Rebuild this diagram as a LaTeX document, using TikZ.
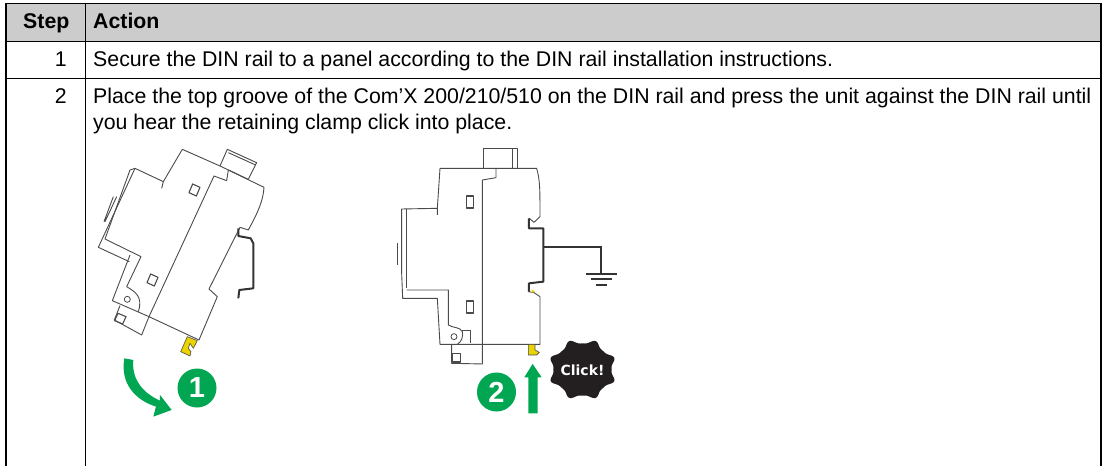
\documentclass[tikz,border=0pt]{standalone}
\usepackage{fontspec}
\setmainfont{Liberation Sans}
\newfontfamily\clickfont{DejaVu Sans}
\definecolor{hdr}{HTML}{CCCCCC}
\definecolor{grn}{HTML}{00A651}
\definecolor{ylw}{HTML}{EBD300}
\definecolor{dev}{HTML}{4A4A4A}
\definecolor{railc}{HTML}{333333}
\definecolor{blk}{HTML}{231F20}
\tikzset{
  tline/.style={draw=black,line width=1.1pt},
  cell/.style={anchor=base west,inner sep=0pt,font=\fontsize{21.3}{24}\selectfont},
  cellb/.style={cell,font=\fontsize{21.3}{24}\selectfont\bfseries},
  num/.style={anchor=base east,inner sep=0pt,font=\fontsize{21.3}{24}\selectfont},
  dv/.style={draw=dev,line width=.9pt,line join=round},
  rail/.style={draw=railc,line width=2pt,line join=round},
  clip part/.style={fill=ylw,draw=dev,line width=.6pt,line join=round},
  badge/.style={circle,fill=grn,text=white,inner sep=0pt,minimum size=39pt,font=\fontsize{29}{30}\selectfont\bfseries},
  zoomA/.style={shift={(80,140)},x=.3333pt,y=-.3333pt},
  zoomB/.style={shift={(380,140)},x=.3333pt,y=-.3333pt},
}
\begin{document}
\begin{tikzpicture}[x=1pt,y=-1pt]
\useasboundingbox (0,0) rectangle (1103,466);
\fill[hdr] (6,3.5) rectangle (1101,41);
\draw[tline] (6,466) -- (6,3.5) -- (1101,3.5) -- (1101,466);
\draw[tline] (85.3,3.5) -- (85.3,466);
\draw[tline] (6,41.3) -- (1101,41.3);
\draw[tline] (6,78.3) -- (1101,78.3);
\node[cellb] (hs) at (23,28) {Step};
\node[cellb] (ha) at (93,28) {Action};
\node[num] (n1) at (67,66) {1};
\node[num] (n2) at (67,103) {2};
\node[cell] (t1) at (93,66) {Secure the DIN rail to a panel according to the DIN rail installation instructions.};
\node[cell] (t2) at (93,103) {Place the top groove of the Com’X 200/210/510 on the DIN rail and press the unit against the DIN rail until};
\node[cell] (t3) at (93,129.5) {you hear the retaining clamp click into place.};
% left device
\begin{scope}[zoomA]
\draw[dv] (245,145) -- (250,125) -- (307,28) -- (420,78) (445,90) -- (552,142) .. controls (550,180) and (535,215) .. (505,270) -- (480,262) -- (387,447) -- (412,470) -- (357,600) -- (207,530) -- (185,585) -- (103,540) -- (120,497);
\draw[dv] (250,125) -- (165,85) -- (150,90) -- (75,297) -- (183,350) -- (140,440) .. controls (165,455) and (190,470) .. (175,515);
\draw[dv] (165,85) -- (55,322) -- (148,365);
\draw[dv] (150,345) -- (97,482) -- (207,530);
\draw[dv] (445,90) -- (440,122) -- (402,108) -- (207,530);
\draw[dv] (110,170) -- (75,245) (100,170) -- (72,245);
\draw[dv] (420,78) -- (442,28) -- (530,68) -- (505,118) (445,38) -- (527,75) (420,78) -- (505,118);
\draw[dv,fill=white,line width=1.1pt] (338,132) -- (360,142) -- (349,168) -- (327,158) -- cycle;
\draw[dv,fill=white,line width=1.1pt] (212,402) -- (234,412) -- (223,438) -- (201,428) -- cycle;
\node[draw=dev,circle,line width=.8pt,minimum size=6pt,inner sep=0pt] (s1) at (142,478) {};
\draw[dv,line width=1.1pt] (114,520) -- (138,530) -- (128,552) -- (104,542) -- cycle;
\path[clip part] (322,590) -- (302,635) -- (330,648) -- (333,635) -- (325,625) -- (330,610) -- (340,625) -- (352,602) -- cycle;
\draw[rail] (475,265) -- (475,288) -- (512,295) -- (520,310) -- (520,445) -- (478,450) -- (475,475);
\fill[grn] (133,655) -- (160,660) .. controls (155,710) and (180,755) .. (240,782) -- (240,765) -- (275,810) -- (220,830) -- (228,800) .. controls (165,780) and (120,730) .. (133,655) -- cycle;
\end{scope}
\node[badge] (b1) at (197,388) {1};
% right device
\begin{scope}[zoomB]
\draw[dv] (172,225) -- (172,205) -- (180,85) -- (470,85) .. controls (480,120) and (480,145) .. (480,230) -- (462,247) -- (448,235);
\draw[dv] (445,455) -- (462,458) -- (480,470) -- (480,613) -- (180,613) -- (172,475) -- (68,475) -- (65,400) -- (65,207) -- (172,205);
\draw[dv] (80,450) -- (205,450) -- (205,555) .. controls (220,565) and (240,560) .. (247,575) .. controls (250,590) and (245,605) .. (232,613);
\draw[dv] (247,570) -- (270,570) -- (270,610);
\draw[dv] (78,207) -- (78,445) (52,310) -- (52,375);
\draw[dv] (307,120) -- (307,672) -- (215,670) -- (215,613);
\draw[dv] (307,120) -- (348,113) -- (348,85);
\draw[dv] (310,85) -- (310,25) -- (412,25) -- (412,85) (397,25) -- (397,85);
\draw[dv,line width=1.1pt] (259,168) rectangle (281,204);
\draw[dv,line width=1.1pt] (259,483) rectangle (281,519);
\node[draw=dev,circle,line width=.8pt,minimum size=6pt,inner sep=0pt] (s2) at (222,590) {};
\draw[dv,line width=1.1pt] (217,640) rectangle (241,666);
\path[clip part] (445,613) -- (445,645) -- (470,645) -- (478,637) -- (465,630) -- (465,613) -- cycle;
\fill[ylw] (455,448) -- (466,456) -- (455,458) -- cycle;
\draw[rail] (447,235) -- (447,265) -- (490,265) -- (490,425) -- (447,430) -- (447,455);
\draw[railc,line width=1.7pt] (490,322) -- (663,322) -- (663,403);
\draw[railc,line width=1.7pt] (618,403) -- (710,403) (632,418) -- (695,418) (648,435) -- (680,435);
\fill[grn] (445,820) -- (445,712) -- (433,712) -- (458,672) -- (485,712) -- (473,712) -- (473,820) -- cycle;
\end{scope}
\node[badge] (b2) at (496.5,392) {2};
\fill[blk] plot[domain=0:360,samples=240,smooth] ({582.5+(28+5*(abs(cos(4*\x)))^4)*1.04*cos(\x+22.5)},{369.5+(28+5*(abs(cos(4*\x)))^4)*.93*sin(\x+22.5)}) -- cycle;
\node[text=white,inner sep=0pt,font=\clickfont\fontsize{14}{15}\selectfont\bfseries] (ck) at (582.5,370) {Click!};
\end{tikzpicture}
\end{document}
